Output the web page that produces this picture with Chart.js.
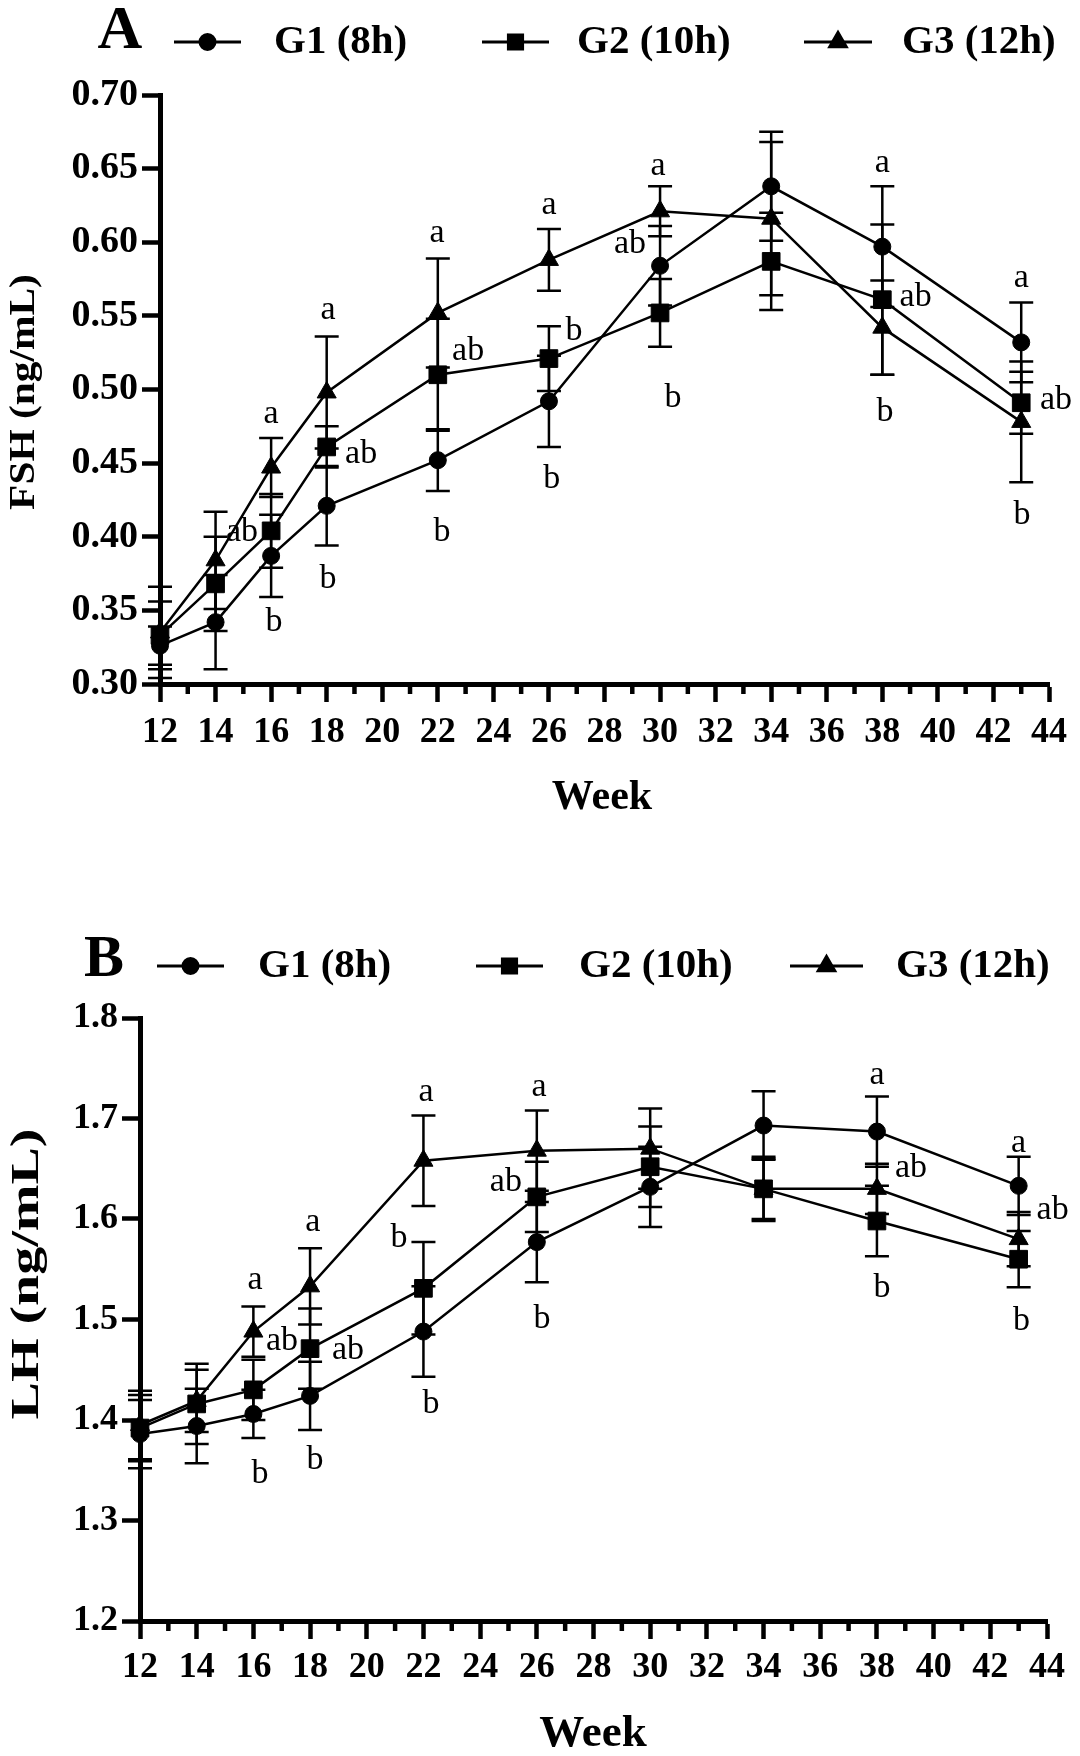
<!DOCTYPE html>
<html><head><meta charset="utf-8">
<script src="https://cdn.jsdelivr.net/npm/chart.js@4.4.1/dist/chart.umd.min.js"></script>
<style>
html,body{margin:0;padding:0;background:#fff;}
#wrap{position:relative;width:1080px;height:1756px;background:#fff;}
.box{position:absolute;left:0;width:1080px;}
</style></head><body>
<div id="wrap">
<div class="box" style="top:0;height:880px"><canvas id="cA"></canvas></div>
<div class="box" style="top:880px;height:876px"><canvas id="cB"></canvas></div>
</div>
<script>
// ---------- data ----------
const weeks = [12,14,16,18,22,26,30,34,38,43];
const seriesNames = ['G1 (8h)','G2 (10h)','G3 (12h)'];

const fshG1 = [0.326,0.342,0.387,0.421,0.452,0.492,0.584,0.638,0.597,0.532];
const fshG2 = [0.333,0.368,0.404,0.461,0.510,0.521,0.552,0.587,0.561,0.491];
const fshG3 = [0.335,0.384,0.447,0.498,0.552,0.588,0.621,0.616,0.542,0.478];
const fshG1Sem = [0.013,0.032,0.028,0.027,0.021,0.031,0.027,0.037,0.041,0.027];
const fshG2Sem = [0.023,0.032,0.025,0.014,0.038,0.022,0.023,0.033,0.051,0.021];
const fshG3Sem = [0.031,0.033,0.020,0.038,0.037,0.021,0.017,0.052,0.032,0.041];

const lhG1 = [1.386,1.394,1.406,1.424,1.488,1.577,1.632,1.693,1.687,1.633];
const lhG2 = [1.392,1.416,1.430,1.471,1.531,1.622,1.652,1.630,1.598,1.560];
const lhG3 = [1.395,1.419,1.488,1.533,1.658,1.668,1.670,1.630,1.630,1.580];
const lhG1Sem = [0.034,0.037,0.024,0.034,0.045,0.040,0.040,0.034,0.035,0.029];
const lhG2Sem = [0.033,0.040,0.030,0.040,0.046,0.035,0.040,0.032,0.035,0.028];
const lhG3Sem = [0.034,0.031,0.025,0.038,0.045,0.040,0.040,0.030,0.025,0.027];

const fshTicks = {min:0.30, max:0.70, step:0.05, decimals:2};
const lhTicks  = {min:1.2, max:1.8, step:0.1, decimals:1};
const xTicks   = {min:12, max:44, step:2};

// significance letters (week, value, text)
const fshLetterWeek = [14.95,16.0,16.1,18.05,19.24,18.05,21.97,23.09,22.15,26.0,26.9,26.1,29.93,28.92,30.47,38.0,39.2,38.1,43.0,44.25,43.03];
const fshLetterVal  = [0.403,0.483,0.342,0.554,0.456,0.371,0.606,0.526,0.403,0.625,0.540,0.439,0.652,0.599,0.494,0.654,0.563,0.485,0.576,0.493,0.415];
const fshLetterText = ['ab','a','b','a','ab','b','a','ab','b','a','b','b','a','ab','b','a','ab','b','a','ab','b'];

const lhLetterWeek = [16.06,17.01,16.23,18.1,19.34,18.17,22.09,21.14,22.27,26.08,24.91,26.18,38.0,39.2,38.18,43.0,44.2,43.1];
const lhLetterVal  = [1.539,1.479,1.346,1.597,1.470,1.360,1.726,1.581,1.416,1.731,1.637,1.500,1.743,1.651,1.531,1.676,1.609,1.498];
const lhLetterText = ['a','ab','b','a','ab','b','a','b','b','a','ab','b','a','ab','b','a','ab','b'];

// ---------- drawing ----------
const SERIF = "'Liberation Serif','Times New Roman',serif";
const styles = ['circle','rect','triangle'];
const radii = [8.5,12.5,11];

function drawMarker(ctx, style, x, y, r){
  Chart.helpers.drawPoint(ctx, {pointStyle: style, radius: r, borderWidth: 1, rotation: 0}, x, y);
}

function makeChart(id, cfg){
  const plug = {
    id: 'custom_' + id,
    beforeDatasetsDraw(chart){
      const {ctx, scales:{x, y}} = chart;
      ctx.save();
      ctx.strokeStyle = '#000'; ctx.lineWidth = 2.5; ctx.lineCap = 'butt';
      cfg.sems.forEach((sem, i) => {
        const vals = cfg.series[i];
        weeks.forEach((w, j) => {
          const px = x.getPixelForValue(w);
          const yt = y.getPixelForValue(vals[j] + sem[j]);
          const yb = y.getPixelForValue(vals[j] - sem[j]);
          ctx.beginPath();
          ctx.moveTo(px, yt); ctx.lineTo(px, yb);
          ctx.moveTo(px - 12, yt); ctx.lineTo(px + 12, yt);
          ctx.moveTo(px - 12, yb); ctx.lineTo(px + 12, yb);
          ctx.stroke();
        });
      });
      ctx.restore();
    },
    afterDraw(chart){
      const {ctx, scales:{x, y}, chartArea} = chart;
      ctx.save();
      // minor x ticks
      ctx.strokeStyle = '#000'; ctx.lineWidth = 4.5;
      for (let w = xTicks.min + 1; w < xTicks.max; w += 2){
        const px = x.getPixelForValue(w);
        ctx.beginPath(); ctx.moveTo(px, chartArea.bottom); ctx.lineTo(px, chartArea.bottom + 10); ctx.stroke();
      }
      // letters
      ctx.fillStyle = '#000';
      ctx.font = '34px ' + SERIF;
      ctx.textAlign = 'center'; ctx.textBaseline = 'middle';
      cfg.letterText.forEach((t, k) => {
        ctx.fillText(t, x.getPixelForValue(cfg.letterWeek[k]), y.getPixelForValue(cfg.letterVal[k]));
      });
      // axis titles
      ctx.font = 'bold ' + cfg.xTitle.size + 'px ' + SERIF;
      ctx.fillText('Week', cfg.xTitle.x, cfg.xTitle.y);
      ctx.save();
      ctx.translate(cfg.yTitle.x, cfg.yTitle.y);
      ctx.rotate(-Math.PI / 2);
      ctx.scale(cfg.yTitle.stretch, 1);
      ctx.font = 'bold ' + cfg.yTitle.size + 'px ' + SERIF;
      ctx.fillText(cfg.yTitle.text, 0, 0);
      ctx.restore();
      // panel letter
      ctx.font = 'bold ' + cfg.panel.size + 'px ' + SERIF;
      ctx.fillText(cfg.panel.text, cfg.panel.x, cfg.panel.y);
      // legend
      ctx.font = 'bold 41px ' + SERIF;
      ctx.textAlign = 'left';
      cfg.legend.items.forEach((it, i) => {
        ctx.lineWidth = 3;
        ctx.beginPath(); ctx.moveTo(it.x1, cfg.legend.y); ctx.lineTo(it.x2, cfg.legend.y); ctx.stroke();
        ctx.fillStyle = '#000'; ctx.strokeStyle = '#000';
        drawMarker(ctx, styles[i], (it.x1 + it.x2) / 2, cfg.legend.y, [7.5, 10, 9.5][i]);
        ctx.fillStyle = '#000';
        ctx.fillText(seriesNames[i], it.tx, cfg.legend.y);
      });
      ctx.restore();
    }
  };

  return new Chart(document.getElementById(id), {
    type: 'line',
    data: {
      datasets: cfg.series.map((s, i) => ({
        label: seriesNames[i],
        data: weeks.map((w, j) => ({x: w, y: s[j]})),
        borderColor: '#000', backgroundColor: '#000', borderWidth: 2.5,
        pointStyle: styles[i], pointRadius: radii[i], pointHoverRadius: radii[i],
        pointBorderWidth: 1, pointBackgroundColor: '#000', pointBorderColor: '#000',
        tension: 0, clip: false, fill: false
      }))
    },
    options: {
      responsive: true, maintainAspectRatio: false, animation: false, events: [],
      layout: {padding: {top: cfg.pad.top, right: cfg.pad.right, left: 0, bottom: 0}},
      plugins: {legend: {display: false}, tooltip: {enabled: false}},
      scales: {
        x: {
          type: 'linear', min: xTicks.min, max: xTicks.max,
          ticks: {stepSize: xTicks.step, color: '#000', padding: cfg.xPad, maxRotation: 0, autoSkip: false,
                  font: {family: SERIF, size: 36, weight: 'bold'}},
          grid: {drawOnChartArea: false, drawTicks: true, tickLength: 18, tickWidth: 4.5, tickColor: '#000'},
          border: {display: true, color: '#000', width: 5},
          afterFit(s){ s.height = cfg.xHeight; }
        },
        y: {
          type: 'linear', min: cfg.ticks.min, max: cfg.ticks.max,
          ticks: {stepSize: cfg.ticks.step, color: '#000', padding: 4,
                  callback: v => Number(v).toFixed(cfg.ticks.decimals),
                  font: {family: SERIF, size: cfg.yTickSize, weight: 'bold'}},
          grid: {drawOnChartArea: false, drawTicks: true, tickLength: 18, tickWidth: 4.5, tickColor: '#000'},
          border: {display: true, color: '#000', width: 5},
          afterFit(s){ s.width = cfg.yWidth; }
        }
      }
    },
    plugins: [plug]
  });
}

makeChart('cA', {
  series: [fshG1, fshG2, fshG3], sems: [fshG1Sem, fshG2Sem, fshG3Sem], ticks: fshTicks,
  letterWeek: fshLetterWeek, letterVal: fshLetterVal, letterText: fshLetterText,
  pad: {top: 95, right: 31}, yWidth: 160, xHeight: 880 - 684, xPad: 9, yTickSize: 38,
  xTitle: {x: 602, y: 798, size: 42},
  yTitle: {x: 25, y: 392, size: 36, stretch: 1.15, text: 'FSH (ng/mL)'},
  panel: {text: 'A', x: 120, y: 32, size: 62},
  legend: {y: 42, items: [{x1:174, x2:241, tx:274}, {x1:482, x2:549, tx:577}, {x1:804, x2:872, tx:902}]}
});

makeChart('cB', {
  series: [lhG1, lhG2, lhG3], sems: [lhG1Sem, lhG2Sem, lhG3Sem], ticks: lhTicks,
  letterWeek: lhLetterWeek, letterVal: lhLetterVal, letterText: lhLetterText,
  pad: {top: 138, right: 33}, yWidth: 140, xHeight: 876 - 741, xPad: 7, yTickSize: 36,
  xTitle: {x: 593, y: 854, size: 45},
  yTitle: {x: 28, y: 394, size: 40, stretch: 1.4, text: 'LH (ng/mL)'},
  panel: {text: 'B', x: 104, y: 80, size: 60},
  legend: {y: 86, items: [{x1:157, x2:224, tx:258}, {x1:476, x2:543, tx:579}, {x1:790, x2:863, tx:896}]}
});
</script>
</body></html>
